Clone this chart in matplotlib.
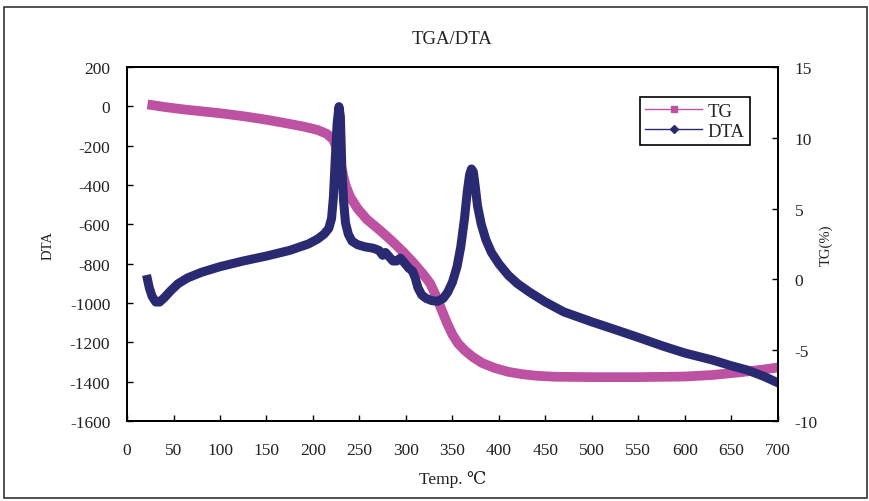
import matplotlib
matplotlib.use('Agg')
import matplotlib.pyplot as plt
from matplotlib.lines import Line2D
from matplotlib.patches import Rectangle

plt.rcParams['font.family'] = ['Liberation Serif', 'DejaVu Serif']
plt.rcParams['axes.unicode_minus'] = False

# TG curve (left axis values)
tg_temp = [22, 40, 60, 80, 100, 125, 150, 170, 190, 205, 215, 222, 227, 231, 235, 240,
           248, 258, 272, 285, 297, 308, 318, 326, 332, 338, 344, 350, 356, 363, 372,
           382, 395, 410, 425, 440, 460, 500, 550, 600, 630, 660, 685, 700]
tg_val = [10, -3, -15, -25, -35, -50, -68, -85, -103, -120, -140, -170, -230, -320,
          -400, -460, -520, -575, -630, -685, -740, -795, -850, -900, -960, -1030,
          -1100, -1160, -1205, -1240, -1275, -1305, -1330, -1350, -1362, -1370, -1375,
          -1377, -1377, -1374, -1366, -1352, -1338, -1328]

# DTA curve (right axis values)
dta_temp = [22, 24, 27, 31, 35, 40, 47, 55, 65, 80, 100, 125, 150, 175, 195, 205, 212,
            217, 220, 222, 224, 226, 228, 229.5, 231, 233, 235, 238, 242, 248, 256, 265,
            271, 275, 278, 282, 286, 290, 294, 298, 303, 307, 310, 313, 317, 322, 328,
            334, 340, 345, 350, 355, 359, 363, 366, 368.5, 370.5, 372.5, 374.5, 377,
            381, 386, 392, 400, 410, 420, 433, 450, 470, 500, 523, 550, 576, 600, 630,
            650, 667, 685, 700]
dta_val = [0.0, -0.6, -1.2, -1.6, -1.6, -1.3, -0.8, -0.3, 0.1, 0.5, 0.9, 1.3, 1.65, 2.05,
           2.5, 2.85, 3.2, 3.6, 4.3, 5.8, 8.5, 11.0, 12.2, 11.5, 8.0, 5.5, 4.0, 3.2, 2.7,
           2.45, 2.3, 2.2, 2.05, 1.7, 1.9, 1.6, 1.3, 1.3, 1.5, 1.2, 0.8, 0.6, 0.1, -0.6,
           -1.1, -1.35, -1.5, -1.55, -1.35, -0.9, -0.2, 0.9, 2.3, 4.3, 6.2, 7.4, 7.8, 7.6,
           6.6, 5.2, 3.9, 2.8, 1.9, 1.1, 0.3, -0.3, -0.9, -1.6, -2.3, -3.0, -3.5, -4.1,
           -4.7, -5.2, -5.7, -6.1, -6.4, -6.85, -7.3]

tg_color = '#BE52A2'
dta_color = '#2A2A72'
text_color = '#222222'

fig = plt.figure(figsize=(8.7, 5.02), dpi=100)
ax = fig.add_axes([0.146, 0.1594, 0.748, 0.7051])
ax2 = ax.twinx()

ax.plot(tg_temp, tg_val, color=tg_color, lw=7, solid_capstyle='butt',
        solid_joinstyle='round')
ax2.plot(dta_temp, dta_val, color=dta_color, lw=6.5, solid_joinstyle='round')

ax.set_xlim(0, 700)
ax.set_ylim(-1600, 200)
ax2.set_ylim(-10, 15)
ax.set_xticks(range(0, 701, 50))
ax.set_yticks(range(-1600, 201, 200))
ax2.set_yticks(range(-10, 16, 5))

for a in (ax, ax2):
    a.tick_params(direction='in', length=4, width=1, labelsize=12.5, pad=12,
                  labelcolor=text_color)
    for s in a.spines.values():
        s.set_linewidth(1.3)
ax.tick_params(axis='x', pad=15)

ax.set_title('TGA/DTA', fontsize=13.5, pad=17, color=text_color)
ax.set_xlabel('Temp. ℃', fontsize=12.5, labelpad=9, color=text_color)
ax.set_ylabel('DTA', fontsize=10.5, labelpad=11, color=text_color)
ax2.set_ylabel('TG(%)', fontsize=10.5, rotation=90, labelpad=1, color=text_color)

handles = [Line2D([], [], color=tg_color, lw=1, marker='s', markersize=5),
           Line2D([], [], color=dta_color, lw=1, marker='D', markersize=4)]
leg = ax2.legend(handles, ['TG', 'DTA'], loc='upper left', bbox_to_anchor=(0.788, 0.915),
                 borderaxespad=0, fancybox=False, framealpha=1, edgecolor='black',
                 fontsize=13.5, handlelength=3.0, handletextpad=0.3, labelspacing=0.15,
                 borderpad=0.3)
leg.get_frame().set_linewidth(1.2)
for t in leg.get_texts():
    t.set_color(text_color)

fig.patches.append(Rectangle((4 / 870, 3 / 502), 863 / 870, 491 / 502,
                             transform=fig.transFigure, fill=False,
                             edgecolor='#333333', lw=1.2))

fig.savefig('out.png', dpi=100)
